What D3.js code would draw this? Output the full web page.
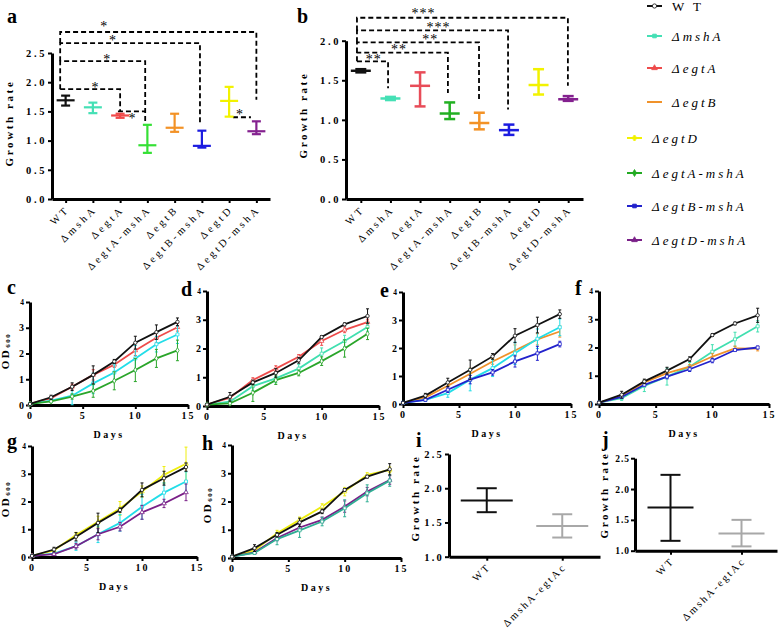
<!DOCTYPE html>
<html lang="en">
<head>
<meta charset="utf-8">
<title>Growth rate and growth curves of mutant strains</title>
<script src="https://d3js.org/d3.v7.min.js"></script>
<style>
  body { margin: 0; background: #fff; }
  svg { display: block; }
  svg text { font-family: "Liberation Serif", "Times New Roman", serif; fill: #000; }
</style>
</head>
<body>
<script>

// ---- panels a / b : growth rate per strain ----
var strains = ["WT", "ΔmshA", "ΔegtA", "ΔegtA-mshA", "ΔegtB", "ΔegtB-mshA", "ΔegtD", "ΔegtD-mshA"];

var rateA     = [1.69, 1.57, 1.43, 0.92, 1.22, 0.91, 1.68, 1.16];
var rateALow  = [1.60, 1.47, 1.39, 0.79, 1.15, 0.88, 1.41, 1.11];
var rateAHigh = [1.77, 1.65, 1.46, 1.27, 1.46, 1.17, 1.92, 1.33];

var rateB     = [1.62, 1.27, 1.43, 1.08, 0.96, 0.87, 1.44, 1.26];
var rateBLow  = [1.60, 1.25, 1.17, 1.01, 0.88, 0.81, 1.32, 1.24];
var rateBHigh = [1.64, 1.29, 1.60, 1.22, 1.09, 0.94, 1.64, 1.30];

var colorsA = ["#111111", "#45e0b5", "#f04a4a", "#35e035", "#f39226", "#1c1ce0", "#f2f200", "#84218f"];
var colorsB = ["#111111", "#45e0b5", "#e84c58", "#22b022", "#f39226", "#1c1ce0", "#f2f200", "#84218f"];

var rateTicksA = [0, 0.5, 1.0, 1.5, 2.0, 2.5];
var rateTicksB = [0, 0.5, 1.0, 1.5, 2.0];

// significance brackets: [left idx, right idx, level, left foot, right foot, label, label idx, label level]
var sigA = [
  [-0.2, 2.0, 1.88, 1.88, 1.50, "*", 1.10, 1.95],
  [-0.2, 2.92, 2.36, 1.88, 1.31, "*", 1.53, 2.43],
  [-0.2, 4.93, 2.67, 2.36, 1.30, "*", 1.74, 2.76],
  [-0.2, 7.0, 2.86, 2.67, 1.70, "*", 1.42, 2.99]
  ,
  [1.92, 2.91, 1.50, 1.50, 1.50, "*", 2.45, 1.42],
  [6.14, 6.80, 1.40, 1.40, 1.40, "*", 6.40, 1.49]
];
var sigB = [
  [-0.13, 0.92, 1.74, 1.74, 1.40, "**", 0.44, 1.79],
  [-0.13, 2.94, 1.85, 1.74, 1.34, "**", 1.29, 1.92],
  [-0.13, 3.99, 1.98, 1.85, 1.25, "**", 2.34, 2.05],
  [-0.13, 4.97, 2.13, 1.98, 1.13, "***", 2.62, 2.20],
  [-0.13, 6.99, 2.29, 2.13, 1.43, "***", 2.12, 2.37]
];

// ---- panels c-h : OD600 growth curves ----
var days = [0, 2, 4, 6, 8, 10, 12, 14];
var dayTicks = [0, 5, 10, 15];
var odTicks = [0, 1, 2, 3, 4];

var odC = [
  [0.04, 0.27, 0.71, 1.17, 1.56, 2.12, 2.61, 3.02],
  [0.04, 0.17, 0.36, 0.84, 1.26, 1.81, 2.36, 2.74],
  [0.04, 0.14, 0.33, 0.55, 0.94, 1.36, 1.81, 2.12],
  [0.04, 0.30, 0.71, 1.17, 1.69, 2.42, 2.83, 3.23]
];
var errC = [
  [0.02, 0.05, 0.10, 0.20, 0.10, 0.20, 0.20, 0.15],
  [0.02, 0.05, 0.35, 0.40, 0.30, 0.50, 0.30, 0.35],
  [0.02, 0.05, 0.10, 0.25, 0.35, 0.45, 0.35, 0.40],
  [0.02, 0.08, 0.15, 0.35, 0.08, 0.25, 0.28, 0.15]
];
var odD = [
  [0.05, 0.29, 0.90, 1.30, 1.71, 2.26, 2.65, 2.92],
  [0.05, 0.15, 0.69, 0.96, 1.30, 1.82, 2.26, 2.75],
  [0.05, 0.09, 0.46, 0.90, 1.15, 1.56, 2.00, 2.51],
  [0.05, 0.32, 0.82, 1.15, 1.59, 2.40, 2.84, 3.13]
];
var errD = [
  [0.02, 0.05, 0.08, 0.10, 0.08, 0.15, 0.10, 0.10],
  [0.02, 0.08, 0.15, 0.15, 0.15, 0.20, 0.20, 0.15],
  [0.02, 0.05, 0.30, 0.15, 0.10, 0.15, 0.30, 0.20],
  [0.02, 0.15, 0.08, 0.15, 0.10, 0.05, 0.05, 0.25]
];
var odE = [
  [0.04, 0.24, 0.65, 1.08, 1.52, 1.91, 2.31, 2.59],
  [0.04, 0.15, 0.39, 0.87, 1.28, 1.81, 2.33, 2.74],
  [0.04, 0.15, 0.51, 0.87, 1.13, 1.52, 1.81, 2.14],
  [0.04, 0.30, 0.77, 1.22, 1.70, 2.44, 2.82, 3.21]
];
var errE = [
  [0.02, 0.05, 0.10, 0.20, 0.10, 0.20, 0.20, 0.20],
  [0.02, 0.05, 0.15, 0.40, 0.30, 0.40, 0.35, 0.30],
  [0.02, 0.05, 0.10, 0.15, 0.10, 0.20, 0.25, 0.10],
  [0.02, 0.08, 0.15, 0.35, 0.10, 0.25, 0.28, 0.15]
];
var odF = [
  [0.05, 0.21, 0.64, 0.97, 1.32, 1.85, 2.29, 2.75],
  [0.05, 0.27, 0.76, 1.09, 1.32, 1.68, 1.97, 1.96],
  [0.05, 0.25, 0.68, 0.97, 1.23, 1.54, 1.91, 2.00],
  [0.05, 0.33, 0.80, 1.18, 1.59, 2.44, 2.85, 3.14]
];
var errF = [
  [0.02, 0.08, 0.20, 0.30, 0.15, 0.25, 0.25, 0.20],
  [0.02, 0.05, 0.08, 0.08, 0.08, 0.10, 0.08, 0.08],
  [0.02, 0.05, 0.05, 0.08, 0.08, 0.08, 0.05, 0.05],
  [0.02, 0.12, 0.08, 0.12, 0.08, 0.05, 0.05, 0.25]
];
var odG = [
  [0.04, 0.24, 0.79, 1.27, 1.75, 2.36, 2.96, 3.36],
  [0.04, 0.12, 0.39, 0.82, 1.23, 1.81, 2.32, 2.72],
  [0.04, 0.10, 0.39, 0.82, 1.09, 1.61, 1.93, 2.33],
  [0.04, 0.27, 0.73, 1.23, 1.69, 2.42, 2.84, 3.24]
];
var errG = [
  [0.02, 0.05, 0.10, 0.20, 0.25, 0.20, 0.30, 0.60],
  [0.02, 0.05, 0.15, 0.30, 0.30, 0.45, 0.35, 0.35],
  [0.02, 0.05, 0.10, 0.20, 0.15, 0.25, 0.15, 0.30],
  [0.02, 0.08, 0.15, 0.35, 0.08, 0.25, 0.25, 0.15]
];
var odH = [
  [0.05, 0.27, 0.88, 1.35, 1.82, 2.35, 2.94, 3.12],
  [0.05, 0.20, 0.71, 1.08, 1.35, 1.82, 2.35, 2.76],
  [0.05, 0.18, 0.67, 0.98, 1.29, 1.76, 2.29, 2.74],
  [0.05, 0.35, 0.82, 1.26, 1.65, 2.41, 2.88, 3.14]
];
var errH = [
  [0.02, 0.05, 0.10, 0.10, 0.10, 0.15, 0.08, 0.10],
  [0.02, 0.05, 0.10, 0.10, 0.10, 0.20, 0.15, 0.15],
  [0.02, 0.05, 0.20, 0.25, 0.15, 0.30, 0.30, 0.20],
  [0.02, 0.12, 0.08, 0.15, 0.08, 0.05, 0.05, 0.20]
];

// ---- panels i / j : complemented strain ----
var compStrains = ["WT", "ΔmshA-egtAc"];
var rateI = [1.82, 1.45], rateILow = [1.65, 1.28], rateIHigh = [2.00, 1.62];
var rateJ = [1.70, 1.28], rateJLow = [1.16, 1.07], rateJHigh = [2.23, 1.50];
var compColors = ["#111111", "#a8a8a8"];
var compTicks = [1.0, 1.5, 2.0, 2.5];

// ---- legend ----
var legendNames = ["W T", "ΔmshA", "ΔegtA", "ΔegtB", "ΔegtD", "ΔegtA-mshA", "ΔegtB-mshA", "ΔegtD-mshA"];
var legendColors = ["#111111", "#45e0b5", "#ee4b4b", "#f0922a", "#f2f200", "#22aa22", "#2222cc", "#7a2088"];

var svg = d3.select("body").append("svg").attr("width", 778).attr("height", 634);

function styleAxis(ax, fs, ls) {
  ax.select(".domain").attr("stroke", "#000").attr("stroke-width", 3);
  ax.selectAll(".tick line").attr("stroke", "#000").attr("stroke-width", 2);
  ax.selectAll(".tick text")
    .style("font-size", fs + "px").style("font-weight", "bold").style("letter-spacing", ls + "px");
}

function letter(t, x, y) {
  svg.append("text").attr("x", x).attr("y", y).text(t)
    .style("font-size", "20px").style("font-weight", "bold");
}

function yTitle(t, x, y, sub) {
  var tx = svg.append("text").attr("transform", "translate(" + x + "," + y + ") rotate(-90)")
    .attr("text-anchor", "middle")
    .style("font-size", "11px").style("font-weight", "bold").style("letter-spacing", "2.6px");
  tx.append("tspan").text(t);
  if (sub) tx.append("tspan").text(sub).attr("dy", 1).style("font-size", "7px").style("letter-spacing", "1.5px");
}

// growth-rate panel with mean and error bars
function ratePanel(o) {
  var x = d3.scalePoint().domain(o.cats).range([o.left, o.right]).padding(0.5);
  var y = d3.scaleLinear().domain(o.yDomain).range([o.bottom, o.top]);
  var xi = function(i) { return x(o.cats[0]) + i * x.step(); };
  var g = svg.append("g");

  var ya = g.append("g").attr("transform", "translate(" + o.left + ",0)")
    .call(d3.axisLeft(y).tickValues(o.ticks).tickFormat(d3.format(".1f")).tickSize(4).tickSizeOuter(0));
  styleAxis(ya, o.tickSize, o.tickSpacing);
  ya.selectAll(".tick text").attr("x", -5);

  var xa = g.append("g").attr("transform", "translate(0," + o.bottom + ")")
    .call(d3.axisBottom(x).tickSize(4).tickSizeOuter(0));
  styleAxis(xa, 10.5, o.labelSpacing);
  xa.selectAll(".tick text")
    .style("font-weight", "normal")
    .attr("text-anchor", "end").attr("dy", null).attr("y", null)
    .attr("transform", "translate(4,11) rotate(-45)");

  // significance brackets
  (o.sig || []).forEach(function(s) {
    g.append("path")
      .attr("d", "M" + xi(s[0]) + "," + y(s[3]) + "V" + y(s[2]) + "H" + xi(s[1]) + "V" + y(s[4]))
      .attr("fill", "none").attr("stroke", "#000").attr("stroke-width", 1.8)
      .attr("stroke-dasharray", "5,3");
    g.append("text").attr("x", xi(s[6])).attr("y", y(s[7]) + 7)
      .attr("text-anchor", "middle").text(s[5])
      .style("font-size", "14px").style("letter-spacing", "1px");
  });

  // error bars
  o.cats.forEach(function(c, i) {
    var cx = x(c), col = o.colors[i];
    var eb = g.append("g").attr("stroke", col).attr("stroke-width", o.sw).attr("fill", "none");
    eb.append("line").attr("x1", cx).attr("x2", cx).attr("y1", y(o.low[i])).attr("y2", y(o.high[i]));
    eb.append("line").attr("x1", cx - o.capHalf).attr("x2", cx + o.capHalf).attr("y1", y(o.low[i])).attr("y2", y(o.low[i]));
    eb.append("line").attr("x1", cx - o.capHalf).attr("x2", cx + o.capHalf).attr("y1", y(o.high[i])).attr("y2", y(o.high[i]));
    eb.append("line").attr("x1", cx - o.meanHalf).attr("x2", cx + o.meanHalf).attr("y1", y(o.mean[i])).attr("y2", y(o.mean[i]));
  });
}

var markerTypes = {
  "WT": d3.symbolCircle, "ΔmshA": d3.symbolSquare, "ΔegtA": d3.symbolTriangle,
  "ΔegtA-mshA": d3.symbolDiamond, "ΔegtB": null, "ΔegtB-mshA": d3.symbolSquare,
  "ΔegtD": d3.symbolTriangle, "ΔegtD-mshA": d3.symbolTriangle
};

// OD600 growth curve panel
function growthPanel(o) {
  var x = d3.scaleLinear().domain([0, 15]).range([o.x0, o.x1]);
  var y = d3.scaleLinear().domain([0, 4]).range([o.y0, o.y1]);
  var g = svg.append("g");

  var xa = g.append("g").attr("transform", "translate(0," + o.y0 + ")")
    .call(d3.axisBottom(x).tickValues(dayTicks).tickFormat(d3.format("d")).tickSize(4).tickSizeOuter(0));
  styleAxis(xa, 10, 2);
  var ya = g.append("g").attr("transform", "translate(" + o.x0 + ",0)")
    .call(d3.axisLeft(y).tickValues(odTicks).tickFormat(d3.format("d")).tickSize(4).tickSizeOuter(0));
  styleAxis(ya, 10, 0);
  ya.selectAll(".tick text").attr("x", -6)
    .filter(function(d) { return d === 4; }).style("font-size", "7.5px");

  g.append("text").attr("x", (o.x0 + o.x1) / 2).attr("y", o.y0 + 33)
    .attr("text-anchor", "middle").text("Days")
    .style("font-size", "10px").style("font-weight", "bold").style("letter-spacing", "2.5px");

  var line = d3.line().x(function(d, i) { return x(days[i]); }).y(function(d) { return y(d); });

  o.data.forEach(function(vals, k) {
    var col = o.colors[k], errs = o.errs[k];
    var s = g.append("g");
    vals.forEach(function(v, i) {
      var cx = x(days[i]);
      s.append("line").attr("x1", cx).attr("x2", cx)
        .attr("y1", y(v - errs[i])).attr("y2", y(v + errs[i]))
        .attr("stroke", col).attr("stroke-width", 1);
      [v - errs[i], v + errs[i]].forEach(function(e) {
        s.append("line").attr("x1", cx - 1.5).attr("x2", cx + 1.5)
          .attr("y1", y(e)).attr("y2", y(e)).attr("stroke", col).attr("stroke-width", 1);
      });
    });
    s.append("path").datum(vals).attr("d", line)
      .attr("fill", "none").attr("stroke", col).attr("stroke-width", 1.8);
    var sym = markerTypes[o.names[k]];
    if (sym) {
      s.selectAll("path.m").data(vals).enter().append("path").attr("class", "m")
        .attr("d", d3.symbol().type(sym).size(9))
        .attr("transform", function(d, i) { return "translate(" + x(days[i]) + "," + y(d) + ")"; })
        .attr("fill", "#fff").attr("stroke", col).attr("stroke-width", 0.8);
    }
  });
}

// ---- draw panels a / b ----
letter("a", 7, 23);
yTitle("Growth rate", 13, 123);
ratePanel({ cats: strains, mean: rateA, low: rateALow, high: rateAHigh, colors: colorsA,
  left: 52, right: 270, bottom: 199, top: 53, yDomain: [0, 2.5], ticks: rateTicksA,
  tickSize: 10.5, tickSpacing: 2.6,
  meanHalf: 9, capHalf: 4.5, sw: 2.2, sig: sigA, labelSpacing: 3 });

letter("b", 297, 23);
yTitle("Growth rate", 307, 115);
ratePanel({ cats: strains, mean: rateB, low: rateBLow, high: rateBHigh, colors: colorsB,
  left: 346, right: 583, bottom: 199, top: 40.7, yDomain: [0, 2.0], ticks: rateTicksB,
  tickSize: 10.5, tickSpacing: 2.6,
  meanHalf: 10, capHalf: 5.5, sw: 2.5, sig: sigB, labelSpacing: 3 });

// ---- legend ----
var legendY = [6, 36, 68, 102, 138, 173, 206, 240];
var legendMarkers = [d3.symbolCircle, d3.symbolSquare, d3.symbolTriangle, null,
  d3.symbolCross, d3.symbolDiamond, d3.symbolSquare, d3.symbolTriangle];
var lg = svg.append("g");
legendNames.forEach(function(n, i) {
  var lx = i < 4 ? 647 : 627, ly = legendY[i], col = legendColors[i];
  lg.append("line").attr("x1", lx).attr("x2", lx + 15).attr("y1", ly).attr("y2", ly)
    .attr("stroke", col).attr("stroke-width", 2);
  if (legendMarkers[i]) {
    lg.append("path").attr("d", d3.symbol().type(legendMarkers[i]).size(14))
      .attr("transform", "translate(" + (lx + 7.5) + "," + ly + ")")
      .attr("fill", i === 0 ? "#fff" : col).attr("stroke", col).attr("stroke-width", 0.8);
  }
  lg.append("text").attr("x", lx + 25).attr("y", ly + 4.5).text(n)
    .style("font-size", "13px").style("letter-spacing", "3px")
    .style("font-style", i === 0 ? "normal" : "italic");
});

// ---- draw panels c-h ----
var black = "#111111", red = "#ee4b4b", cyan = "#22dde8", aqua = "#40dfb0", green = "#2aa52a",
    orange = "#f0922a", blue = "#2222cc", yellow = "#eeee10", purple = "#7a2088", teal = "#2fae93";

letter("c", 7, 294);
yTitle("OD", 9, 351, "600");
growthPanel({ x0: 30, x1: 188, y0: 405, y1: 302, data: odC, errs: errC,
  names: ["ΔegtA", "ΔmshA", "ΔegtA-mshA", "WT"], colors: [red, cyan, green, black] });

letter("d", 181, 296);
growthPanel({ x0: 207, x1: 379, y0: 406, y1: 291, data: odD, errs: errD,
  names: ["ΔegtA", "ΔmshA", "ΔegtA-mshA", "WT"], colors: [red, aqua, green, black] });

letter("e", 380, 297);
growthPanel({ x0: 403, x1: 571, y0: 404, y1: 292, data: odE, errs: errE,
  names: ["ΔegtB", "ΔmshA", "ΔegtB-mshA", "WT"], colors: [orange, cyan, blue, black] });

letter("f", 575, 295);
growthPanel({ x0: 599, x1: 769, y0: 404, y1: 291, data: odF, errs: errF,
  names: ["ΔmshA", "ΔegtB", "ΔegtB-mshA", "WT"], colors: [aqua, orange, blue, black] });

letter("g", 7, 448);
yTitle("OD", 9, 499, "600");
growthPanel({ x0: 32, x1: 197, y0: 557, y1: 446, data: odG, errs: errG,
  names: ["ΔegtD", "ΔmshA", "ΔegtD-mshA", "WT"], colors: [yellow, cyan, purple, black] });

letter("h", 202, 450);
yTitle("OD", 211, 505, "600");
growthPanel({ x0: 232, x1: 401, y0: 558, y1: 445, data: odH, errs: errH,
  names: ["ΔegtD", "ΔegtD-mshA", "ΔmshA", "WT"], colors: [yellow, purple, teal, black] });

// ---- draw panels i / j ----
letter("i", 416, 447);
yTitle("Growth rate", 419, 498);
ratePanel({ cats: compStrains, mean: rateI, low: rateILow, high: rateIHigh, colors: compColors,
  left: 449, right: 600, bottom: 556.7, top: 454, yDomain: [1.0, 2.5], ticks: compTicks,
  tickSize: 10.5, tickSpacing: 2.2,
  meanHalf: 26, capHalf: 10, sw: 2, labelSpacing: 2.2 });

letter("j", 602, 446);
yTitle("Growth rate", 608, 495);
ratePanel({ cats: compStrains, mean: rateJ, low: rateJLow, high: rateJHigh, colors: compColors,
  left: 635, right: 777, bottom: 550.7, top: 458.2, yDomain: [1.0, 2.5], ticks: compTicks,
  tickSize: 9.5, tickSpacing: 1,
  meanHalf: 23, capHalf: 10, sw: 2, labelSpacing: 2.2 });

</script>
</body>
</html>
